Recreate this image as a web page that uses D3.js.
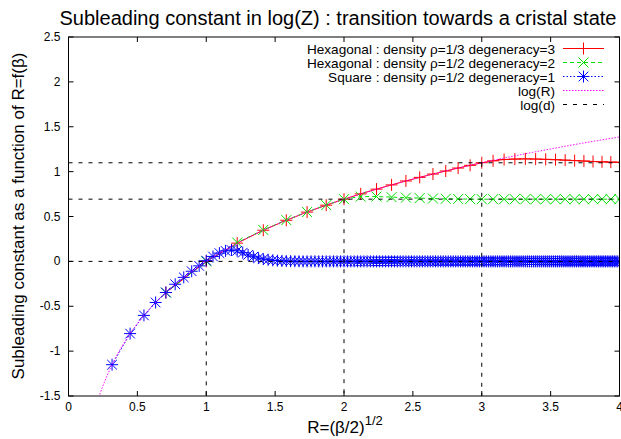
<!DOCTYPE html>
<html>
<head>
<meta charset="utf-8">
<script src="https://cdn.jsdelivr.net/npm/d3@7/dist/d3.min.js"></script>
<style>
html,body{margin:0;padding:0;background:#fff;}
svg{display:block;font-family:"Liberation Sans",Arial,Helvetica,sans-serif;}
</style>
</head>
<body>
<svg id="c" width="621" height="439"></svg>
<script>
// ---- data ----
const xTicks = [0, 0.5, 1, 1.5, 2, 2.5, 3, 3.5, 4];
const yTicks = [-1.5, -1, -0.5, 0, 0.5, 1, 1.5, 2, 2.5];
const xTickLabels = ["0","0.5","1","1.5","2","2.5","3","3.5","4"];
const yTickLabels = ["-1.5","-1","-0.5","0","0.5","1","1.5","2","2.5"];

// beta values (R = (beta/2)^(1/2))
const betaHex = [1,2,3,4,5,6,7,8,9,10,11,12,13,14,15,16,17,18,19,20,21,22,23,24,25,26,27,28,29,30,31,32];
const hex3 = [-0.347,0.0,0.203,0.347,0.458,0.549,0.626,0.693,0.752,0.805,0.852,0.896,0.936,0.973,1.007,1.040,1.070,1.099,1.120,1.135,1.140,1.142,1.140,1.137,1.133,1.128,1.123,1.118,1.113,1.109,1.106,1.104];
const hex2 = [-0.347,0.0,0.210,0.350,0.460,0.550,0.627,0.693,0.722,0.722,0.716,0.710,0.705,0.700,0.697,0.695,0.694,0.693,0.693,0.693,0.693,0.693,0.693,0.693,0.693,0.693,0.693,0.693,0.693,0.693,0.693,0.693];

const betaSq = [0.2,0.4,0.6,0.8,1.0,1.2,1.4,1.6,1.8,2.0,2.2,2.4,2.6,2.8,3.0,3.2,3.4,3.6,3.8,4.0,
4.2,4.4,4.6,4.8,5.0,5.2,5.4,5.6,5.8,6.0,6.2,6.4,6.6,6.8,7.0,7.2,7.4,7.6,7.8,8.0,
8.2,8.4,8.6,8.8,9.0,9.2,9.4,9.6,9.8,10.0,10.2,10.4,10.6,10.8,11.0,11.2,11.4,11.6,11.8,12.0,
12.2,12.4,12.6,12.8,13.0,13.2,13.4,13.6,13.8,14.0,14.2,14.4,14.6,14.8,15.0,15.2,15.4,15.6,15.8,16.0,
16.2,16.4,16.6,16.8,17.0,17.2,17.4,17.6,17.8,18.0,18.2,18.4,18.6,18.8,19.0,19.2,19.4,19.6,19.8,20.0,
20.2,20.4,20.6,20.8,21.0,21.2,21.4,21.6,21.8,22.0,22.2,22.4,22.6,22.8,23.0,23.2,23.4,23.6,23.8,24.0,
24.2,24.4,24.6,24.8,25.0,25.2,25.4,25.6,25.8,26.0,26.2,26.4,26.6,26.8,27.0,27.2,27.4,27.6,27.8,28.0,
28.2,28.4,28.6,28.8,29.0,29.2,29.4,29.6,29.8,30.0,30.2,30.4,30.6,30.8,31.0,31.2,31.4,31.6,31.8,32.0];
const sq1 = [-1.151,-0.805,-0.602,-0.458,-0.347,-0.255,-0.178,-0.110,-0.050,0.008,0.055,0.092,0.117,0.127,0.118,0.097,0.072,0.052,0.037,0.026,
0.018,0.012,0.008,0.005,0.003,0.002,0.001,0.001,0,0,0,0,0,0,0,0,0,0,0,0,
0,0,0,0,0,0,0,0,0,0,0,0,0,0,0,0,0,0,0,0,
0,0,0,0,0,0,0,0,0,0,0,0,0,0,0,0,0,0,0,0,
0,0,0,0,0,0,0,0,0,0,0,0,0,0,0,0,0,0,0,0,
0,0,0,0,0,0,0,0,0,0,0,0,0,0,0,0,0,0,0,0,
0,0,0,0,0,0,0,0,0,0,0,0,0,0,0,0,0,0,0,0,
0,0,0,0,0,0,0,0,0,0,0,0,0,0,0,0,0,0,0,0];

const degeneracies = [1, 2, 3];

const legendLabels = [
  "Hexagonal : density \u03c1=1/3 degeneracy=3",
  "Hexagonal : density \u03c1=1/2 degeneracy=2",
  "Square : density \u03c1=1/2 degeneracy=1",
  "log(R)",
  "log(d)"
];

// ---- layout ----
const svg = d3.select("#c");
const M = {left: 68.5, right: 619.5, top: 37, bottom: 396};
const x = d3.scaleLinear().domain([0, 4]).range([M.left, M.right]);
const y = d3.scaleLinear().domain([-1.5, 2.5]).range([M.bottom, M.top]);
const toR = b => Math.sqrt(b / 2);

const RED = "#ff0000", GREEN = "#00e000", BLUE = "#0000ff", MAG = "#ff00ff";

svg.append("defs").append("clipPath").attr("id","clip")
  .append("rect").attr("x",M.left).attr("y",M.top).attr("width",M.right-M.left).attr("height",M.bottom-M.top);

// title
svg.append("text").attr("x", 338).attr("y", 25).attr("text-anchor","middle")
  .attr("font-size", 20).text("Subleading constant in log(Z) : transition towards a cristal state");

// axes (ticks inside, mirrored)
const tl = 5;
const gAx = svg.append("g");
xTicks.forEach((t,i) => {
  gAx.append("line").attr("x1",x(t)).attr("x2",x(t)).attr("y1",M.bottom).attr("y2",M.bottom-tl).attr("stroke","#000");
  gAx.append("line").attr("x1",x(t)).attr("x2",x(t)).attr("y1",M.top).attr("y2",M.top+tl).attr("stroke","#000");
  gAx.append("text").attr("x",x(t)).attr("y",M.bottom+15).attr("text-anchor","middle").attr("font-size",12).text(xTickLabels[i]);
});
yTicks.forEach((t,i) => {
  gAx.append("line").attr("y1",y(t)).attr("y2",y(t)).attr("x1",M.left).attr("x2",M.left+tl).attr("stroke","#000");
  gAx.append("line").attr("y1",y(t)).attr("y2",y(t)).attr("x1",M.right).attr("x2",M.right-tl).attr("stroke","#000");
  gAx.append("text").attr("x",M.left-8).attr("y",y(t)+4).attr("text-anchor","end").attr("font-size",12).text(yTickLabels[i]);
});

// axis labels
const xl = svg.append("text").attr("x", 345).attr("y", 433).attr("text-anchor","middle").attr("font-size",17);
xl.append("tspan").text("R=(\u03b2/2)");
xl.append("tspan").attr("dy",-8).attr("font-size",13).text("1/2");
svg.append("text").attr("transform","translate(24,216) rotate(-90)").attr("text-anchor","middle")
  .attr("font-size",17).text("Subleading constant as a function of R=f(\u03b2)");

// markers
function plus(g, cx, cy, s, col){
  g.append("path").attr("d",`M${cx-s},${cy}H${cx+s}M${cx},${cy-s}V${cy+s}`).attr("stroke",col).attr("fill","none");
}
function cross(g, cx, cy, s, col){
  g.append("path").attr("d",`M${cx-s},${cy-s}L${cx+s},${cy+s}M${cx-s},${cy+s}L${cx+s},${cy-s}`).attr("stroke",col).attr("fill","none");
}
function star(g, cx, cy, s, col){
  plus(g,cx,cy,s,col); cross(g,cx,cy,s*0.8,col);
}

const plot = svg.append("g").attr("clip-path","url(#clip)");
const line = d3.line().x(d=>x(d[0])).y(d=>y(d[1]));

// red
const redPts = betaHex.map((b,i)=>[toR(b), hex3[i]]);
plot.append("path").attr("d", line(redPts)).attr("stroke",RED).attr("fill","none").attr("stroke-width",1);
const gR = plot.append("g");
redPts.forEach(p=>plus(gR, x(p[0]), y(p[1]), 6, RED));

// green
const grPts = betaHex.map((b,i)=>[toR(b), hex2[i]]);
plot.append("path").attr("d", line(grPts)).attr("stroke",GREEN).attr("fill","none").attr("stroke-dasharray","4,3");
const gG = plot.append("g");
grPts.forEach(p=>cross(gG, x(p[0]), y(p[1]), 5, GREEN));

// blue
const bPts = betaSq.map((b,i)=>[toR(b), sq1[i]]);
plot.append("path").attr("d", line(bPts)).attr("stroke",BLUE).attr("fill","none").attr("stroke-dasharray","1.5,2");
const gB = plot.append("g");
bPts.forEach(p=>star(gB, x(p[0]), y(p[1]), 6, BLUE));

// log(R)
const fR = d3.range(0.2, 4.001, 0.01).map(r=>[r, Math.log(r)]);
plot.append("path").attr("d", line(fR)).attr("stroke",MAG).attr("fill","none").attr("stroke-dasharray","1.5,1.5");

// log(d)
const gD = plot.append("g");
degeneracies.forEach(d=>{
  gD.append("line").attr("x1",x(0)).attr("x2",x(4)).attr("y1",y(Math.log(d))).attr("y2",y(Math.log(d)))
    .attr("stroke","#000").attr("stroke-dasharray","4,6");
  gD.append("line").attr("x1",x(d)).attr("x2",x(d)).attr("y1",y(Math.log(d))).attr("y2",y(-1.5))
    .attr("stroke","#000").attr("stroke-dasharray","4,6");
});

// frame
svg.append("rect").attr("x",M.left).attr("y",M.top).attr("width",M.right-M.left).attr("height",M.bottom-M.top)
  .attr("fill","none").attr("stroke","#000");

// legend
const lg = svg.append("g");
const lx1 = 563, lx2 = 604, ltx = 555, ly0 = 48.5, ldy = 14;
const styles = [
  {c:RED, dash:null, m:"plus"},
  {c:GREEN, dash:"4,3", m:"cross"},
  {c:BLUE, dash:"1.5,2", m:"star"},
  {c:MAG, dash:"1.5,1.5", m:null},
  {c:"#000", dash:"4,6", m:null}
];
legendLabels.forEach((t,i)=>{
  const yy = ly0 + i*ldy;
  lg.append("text").attr("x",ltx).attr("y",yy+5).attr("text-anchor","end").attr("font-size",13.6).text(t);
  const l = lg.append("line").attr("x1",lx1).attr("x2",lx2).attr("y1",yy).attr("y2",yy).attr("stroke",styles[i].c);
  if(styles[i].dash) l.attr("stroke-dasharray",styles[i].dash);
  const cx = (lx1+lx2)/2;
  if(styles[i].m==="plus") plus(lg,cx,yy,6,styles[i].c);
  if(styles[i].m==="cross") cross(lg,cx,yy,5,styles[i].c);
  if(styles[i].m==="star") star(lg,cx,yy,6,styles[i].c);
});
</script>
</body>
</html>
